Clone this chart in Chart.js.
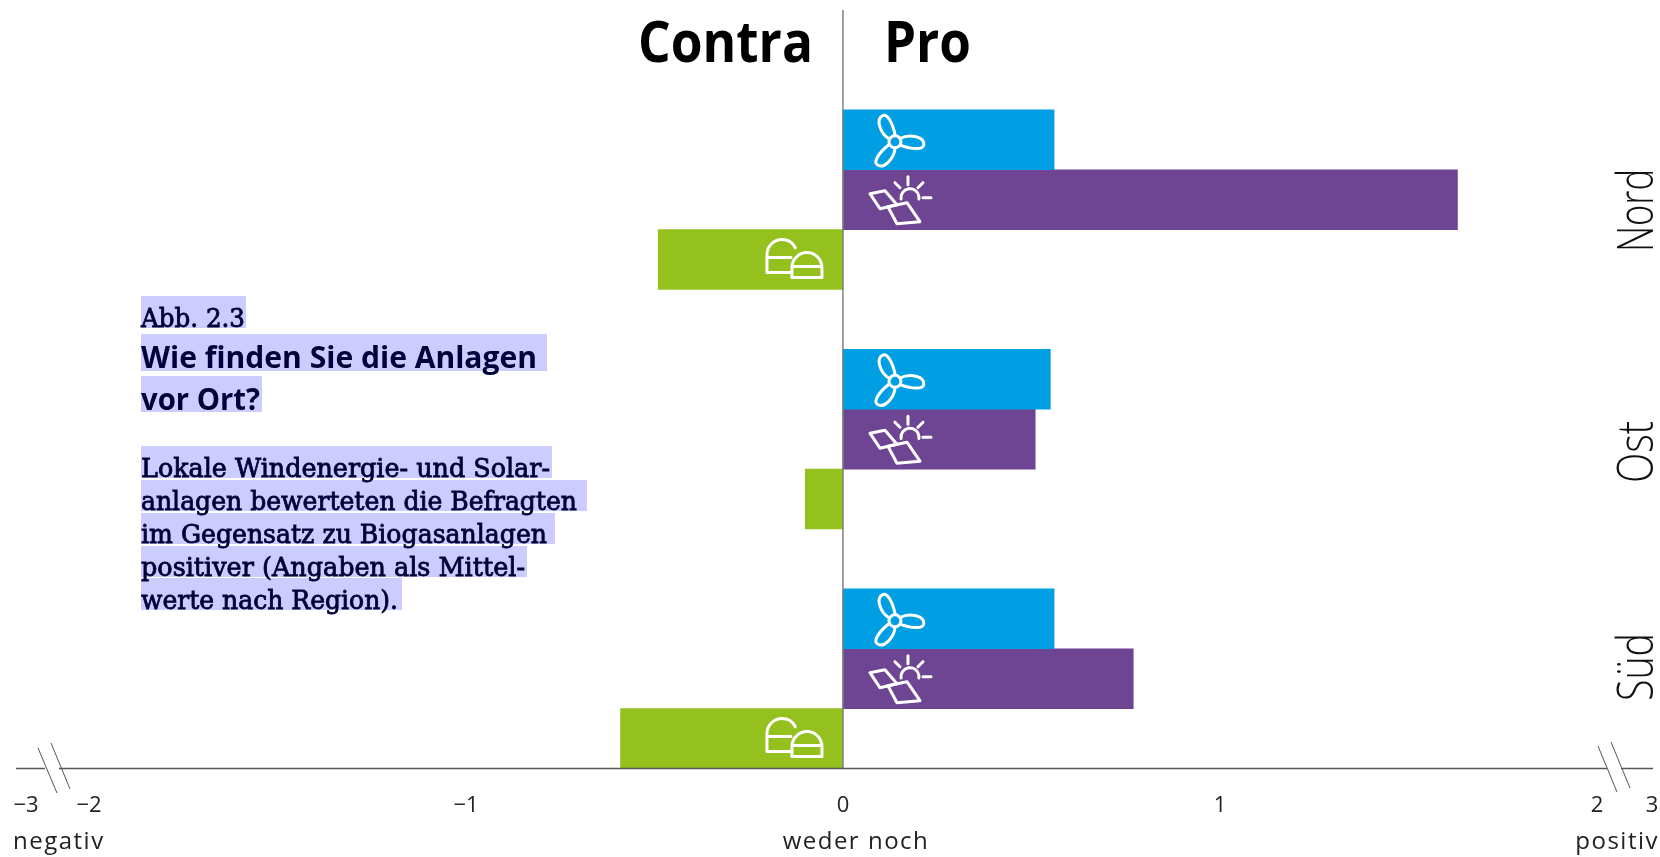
<!DOCTYPE html>
<html lang="de">

<head>
    <meta charset="UTF-8">
    <title>Wie finden Sie die Anlagen vor Ort?</title>
    <script src="https://cdn.jsdelivr.net/npm/chart.js"></script>
    <style>
        body { margin: 0; background: #fff; }
        canvas { display: block; }
    </style>
</head>

<body>
    <canvas id="anlagenChart" width="1660" height="857"></canvas>
    <script>
        const regions = ['Nord', 'Ost', 'Süd'];
        const windValues = [0.56, 0.55, 0.56];
        const solarValues = [1.63, 0.51, 0.77];
        const biogasValues = [-0.49, -0.10, -0.59];

        // the axis is broken outside +-2, so -3 and 3 sit just past the break
        const tickValues = [-2.167, -2, -1, 0, 1, 2, 2.146];
        const tickLabels = ['−3', '−2', '−1', '0', '1', '2', '3'];

        const colWind = '#009fe3';
        const colSolar = '#6e4592';
        const colBiogas = '#95c11f';
        const colAxis = '#555';
        const colMark = '#ccccff';
        const colCaption = '#00003a';

        const serif = '"DejaVu Serif"';
        const sans = '"Open Sans"';

        // each region takes four rows: empty, wind, solar, biogas
        const slotLabels = regions.flatMap(r => [r, r + ' Wind', r + ' Solar', r + ' Biogas']);
        const slotsFor = (values, offset) => regions.flatMap((r, i) => {
            const row = [null, null, null, null];
            row[offset] = values[i];
            return row;
        });

        // caption: text, font, weight, size, x end of the text, baseline, highlight x end, top, bottom
        const caption = [
            ['Abb. 2.3', serif, 400, 26, 245, 327, 246, 296, 328],
            ['Wie finden Sie die Anlagen', sans, 700, 31, 537, 368, 547, 334, 371],
            ['vor Ort?', sans, 700, 31, 260, 410, 262, 376, 412],
            ['Lokale Windenergie- und Solar-', serif, 400, 26, 550, 477, 552, 446, 478],
            ['anlagen bewerteten die Befragten', serif, 400, 26, 577, 510, 587, 480, 511],
            ['im Gegensatz zu Biogasanlagen', serif, 400, 26, 547, 543, 555, 513, 544],
            ['positiver (Angaben als Mittel-', serif, 400, 26, 525, 576, 527, 546, 577],
            ['werte nach Region).', serif, 400, 26, 398, 609, 402, 578, 610]
        ];
        const captionLeft = 141;

        // rotated region labels: bottom end and length of each word
        const regionBottom = [252, 483, 701];
        const regionLength = [83, 62, 68];

        function stroke(ctx, build) {
            ctx.beginPath();
            build();
            ctx.stroke();
        }

        function drawWind(ctx, x, y) {
            ctx.save();
            ctx.translate(x + 52, y + 2);
            stroke(ctx, () => ctx.arc(0, 0, 6, 0, Math.PI * 2));
            [-25, 96, 218].forEach(a => {
                ctx.save();
                ctx.rotate(a * Math.PI / 180);
                stroke(ctx, () => {
                    ctx.moveTo(-4, -5);
                    ctx.bezierCurveTo(-10, -14, -8, -29, 0, -29);
                    ctx.bezierCurveTo(5, -29, 6, -18, 3, -6);
                });
                ctx.restore();
            });
            ctx.restore();
        }

        function drawSolar(ctx, x, y) {
            const poly = pts => stroke(ctx, () => {
                pts.forEach((p, i) => i ? ctx.lineTo(x + p[0], y + p[1]) : ctx.moveTo(x + p[0], y + p[1]));
                ctx.closePath();
            });
            poly([[27, -6], [42, -9], [54, 5], [37, 9]]);
            poly([[45, 7], [64, 3], [77, 22], [54, 24]]);
            stroke(ctx, () => ctx.arc(x + 67, y - 2, 9, Math.PI * 0.95, Math.PI * 2.05));
            [[65, -23, 65, -15], [52, -17, 57, -12], [80, -17, 75, -12], [80, -2, 88, -2]].forEach(r => {
                stroke(ctx, () => {
                    ctx.moveTo(x + r[0], y + r[1]);
                    ctx.lineTo(x + r[2], y + r[3]);
                });
            });
        }

        function drawBiogas(ctx, x, y) {
            stroke(ctx, () => {
                ctx.moveTo(x - 53, y + 13);
                ctx.lineTo(x - 76, y + 13);
                ctx.lineTo(x - 76, y - 5);
                ctx.arc(x - 61, y - 5, 15, Math.PI, Math.PI * 1.85);
                ctx.moveTo(x - 75, y - 2);
                ctx.lineTo(x - 52, y - 2);
            });
            stroke(ctx, () => {
                ctx.moveTo(x - 51, y + 18);
                ctx.lineTo(x - 51, y + 8);
                ctx.arc(x - 36, y + 8, 15, Math.PI, 0);
                ctx.lineTo(x - 21, y + 18);
                ctx.closePath();
                ctx.moveTo(x - 51, y + 7);
                ctx.lineTo(x - 21, y + 7);
            });
        }

        const captionPlugin = {
            id: 'caption',
            beforeDraw(chart) {
                const ctx = chart.ctx;
                ctx.save();
                ctx.textBaseline = 'alphabetic';
                ctx.fillStyle = colMark;
                caption.forEach(c => ctx.fillRect(captionLeft, c[7], c[6] - captionLeft, c[8] - c[7]));
                ctx.fillStyle = colCaption;
                ctx.strokeStyle = colCaption;
                ctx.lineWidth = 0.8;
                caption.forEach(c => {
                    ctx.font = c[2] + ' ' + c[3] + 'px ' + c[1];
                    ctx.fillText(c[0], captionLeft, c[5], c[4] - captionLeft);
                    // the serif lines need a slightly heavier weight than the regular cut
                    if (c[1] === serif) ctx.strokeText(c[0], captionLeft, c[5], c[4] - captionLeft);
                });
                ctx.restore();
            }
        };

        const decorPlugin = {
            id: 'decor',
            afterDatasetsDraw(chart) {
                const ctx = chart.ctx;
                const xs = chart.scales.x;
                const ys = chart.scales.y;
                const x0 = xs.getPixelForValue(0);
                const axisY = chart.chartArea.bottom;

                ctx.save();

                // icons on the bars, biogas only where the bar is long enough
                ctx.strokeStyle = '#fff';
                ctx.lineWidth = 3;
                ctx.lineJoin = 'round';
                ctx.lineCap = 'round';
                regions.forEach((r, i) => {
                    drawWind(ctx, x0, ys.getPixelForValue(i * 4 + 1));
                    drawSolar(ctx, x0, ys.getPixelForValue(i * 4 + 2));
                    if (biogasValues[i] < -0.3) drawBiogas(ctx, x0, ys.getPixelForValue(i * 4 + 3));
                });

                // zero line and horizontal axis with its two breaks
                ctx.lineCap = 'butt';
                ctx.strokeStyle = '#808080';
                ctx.lineWidth = 1.5;
                stroke(ctx, () => {
                    ctx.moveTo(x0, 10);
                    ctx.lineTo(x0, axisY);
                });
                ctx.strokeStyle = colAxis;
                stroke(ctx, () => {
                    ctx.moveTo(16, axisY);
                    ctx.lineTo(45, axisY);
                    ctx.moveTo(59, axisY);
                    ctx.lineTo(1607, axisY);
                    ctx.moveTo(1621, axisY);
                    ctx.lineTo(1653, axisY);
                });
                ctx.lineWidth = 1;
                [[38, 748, 57, 793], [51, 743, 70, 789], [1598, 746, 1617, 792], [1611, 742, 1630, 788]].forEach(s => {
                    stroke(ctx, () => {
                        ctx.moveTo(s[0], s[1]);
                        ctx.lineTo(s[2], s[3]);
                    });
                });

                // Contra / Pro headings either side of zero
                ctx.fillStyle = '#000';
                ctx.font = '700 58px ' + sans;
                ctx.textAlign = 'left';
                ctx.fillText('Contra', x0 - 205, 62, 175);
                ctx.fillText('Pro', x0 + 41, 62, 87);

                // words under the axis
                ctx.fillStyle = '#222';
                ctx.font = '400 24px ' + sans;
                ctx.letterSpacing = '1.5px';
                ctx.fillText('negativ', 13, 849);
                ctx.textAlign = 'center';
                ctx.fillText('weder noch', x0 + 13, 849);
                ctx.textAlign = 'right';
                ctx.fillText('positiv', 1659, 849);
                ctx.letterSpacing = '0px';

                // region names read bottom to top at the right edge
                ctx.fillStyle = '#111';
                ctx.font = '300 49px ' + sans;
                ctx.textAlign = 'left';
                regions.forEach((r, i) => {
                    ctx.save();
                    ctx.translate(1653, regionBottom[i]);
                    ctx.rotate(-Math.PI / 2);
                    ctx.fillText(r, 0, 0, regionLength[i]);
                    ctx.restore();
                });

                ctx.restore();
            }
        };

        function renderChart() {
            const ctx = document.getElementById('anlagenChart').getContext('2d');
            new Chart(ctx, {
                type: 'bar',
                data: {
                    labels: slotLabels,
                    datasets: [
                        { label: 'Windenergie', data: slotsFor(windValues, 1), backgroundColor: colWind },
                        { label: 'Solar', data: slotsFor(solarValues, 2), backgroundColor: colSolar },
                        { label: 'Biogas', data: slotsFor(biogasValues, 3), backgroundColor: colBiogas }
                    ]
                },
                options: {
                    indexAxis: 'y',
                    responsive: false,
                    animation: false,
                    grouped: false,
                    barPercentage: 1,
                    categoryPercentage: 1,
                    layout: { padding: { left: 26, right: 8, top: 50, bottom: 36 } },
                    plugins: { legend: { display: false }, tooltip: { enabled: false } },
                    scales: {
                        x: {
                            type: 'linear',
                            min: tickValues[0],
                            max: tickValues[tickValues.length - 1],
                            grid: { display: false, drawTicks: false },
                            border: { display: false },
                            afterBuildTicks: axis => { axis.ticks = tickValues.map(v => ({ value: v })); },
                            // fixed axis band, so the plot edges don't move with the tick labels
                            afterFit: axis => {
                                axis.height = 52.5;
                                axis.paddingLeft = 0;
                                axis.paddingRight = 0;
                            },
                            ticks: {
                                autoSkip: false,
                                maxRotation: 0,
                                padding: 24,
                                color: '#222',
                                font: { family: sans, size: 22 },
                                callback: value => tickLabels[tickValues.indexOf(value)]
                            }
                        },
                        y: { display: false }
                    }
                },
                plugins: [captionPlugin, decorPlugin]
            });
        }

        document.addEventListener('DOMContentLoaded', renderChart);
    </script>
</body>

</html>
